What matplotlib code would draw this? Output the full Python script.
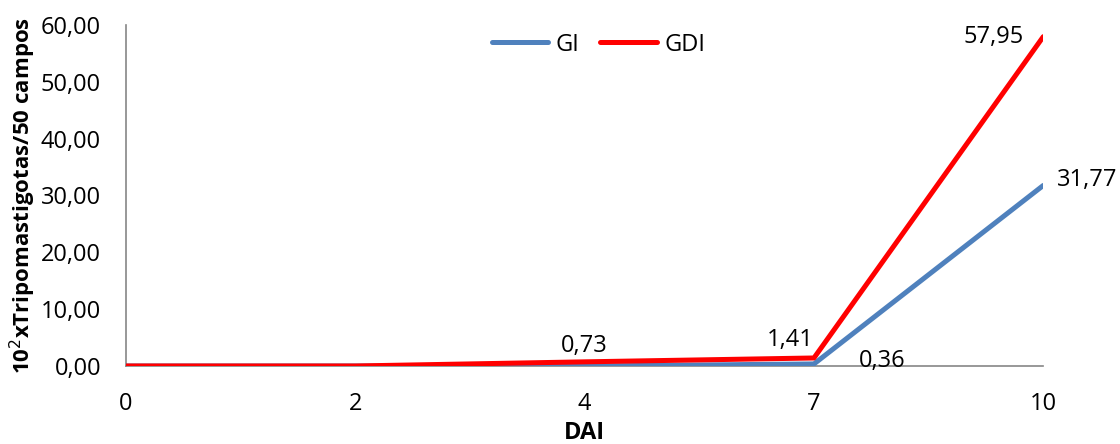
import matplotlib
matplotlib.use('Agg')
import matplotlib.pyplot as plt

plt.rcParams['font.family'] = ['Liberation Sans Narrow', 'Open Sans', 'DejaVu Sans']

# data
days = ['0', '2', '4', '7', '10']
gi = [0.0, 0.0, 0.0, 0.36, 31.77]
gdi = [0.0, 0.0, 0.73, 1.41, 57.95]
yticks = [0, 10, 20, 30, 40, 50, 60]

BLUE = '#4f81bd'
RED = '#ff0000'
FS = 17

fig = plt.figure(figsize=(11.2, 4.44), dpi=100)
ax = fig.add_axes([0.1125, 0.1757, 0.819, 0.768])

x = list(range(len(days)))
ax.plot(x, gi, color=BLUE, lw=3.6, label='GI', solid_capstyle='round', zorder=3)
ax.plot(x, gdi, color=RED, lw=3.6, label='GDI', solid_capstyle='round', zorder=4)

ax.set_xlim(0, len(days) - 1)
ax.set_ylim(0, 60)
ax.set_xticks(x)
ax.set_xticklabels(days)
ax.set_yticks(yticks)
ax.set_yticklabels([f'{v:.2f}'.replace('.', ',') for v in yticks])
ax.tick_params(axis='both', length=0, labelsize=FS)
ax.tick_params(axis='x', pad=19)
ax.tick_params(axis='y', pad=18)

for s in ['top', 'right']:
    ax.spines[s].set_visible(False)
for s in ['left', 'bottom']:
    ax.spines[s].set_color('#868686')
    ax.spines[s].set_linewidth(1.2)
ax.spines['bottom'].set_zorder(2)

ax.set_xlabel('DAI', fontsize=FS, fontweight='bold', labelpad=3)
ax.set_ylabel('10$^{2}$xTripomastigotas/50 campos', fontsize=16, fontweight='bold', labelpad=2)

def fmt(v):
    return f'{v:.2f}'.replace('.', ',')

# data labels
ax.annotate(fmt(gdi[2]), (2, gdi[2]), xytext=(0, 3), textcoords='offset points',
            ha='center', va='bottom', fontsize=FS)
ax.annotate(fmt(gdi[3]), (3, gdi[3]), xytext=(-17, 4), textcoords='offset points',
            ha='center', va='bottom', fontsize=FS)
ax.annotate(fmt(gi[3]), (3, gi[3]), xytext=(49, 2), textcoords='offset points',
            ha='center', va='center', fontsize=FS)
ax.annotate(fmt(gdi[4]), (4, gdi[4]), xytext=(-36, 0), textcoords='offset points',
            ha='center', va='center', fontsize=FS)
ax.annotate(fmt(gi[4]), (4, gi[4]), xytext=(10, 4), textcoords='offset points',
            ha='left', va='center', fontsize=FS)

ax.legend(loc='upper center', bbox_to_anchor=(0.515, 1.04), ncol=2, frameon=False,
          fontsize=FS, handlelength=2.4, columnspacing=0.9, handletextpad=0.3)

plt.savefig('out.png', dpi=100)
